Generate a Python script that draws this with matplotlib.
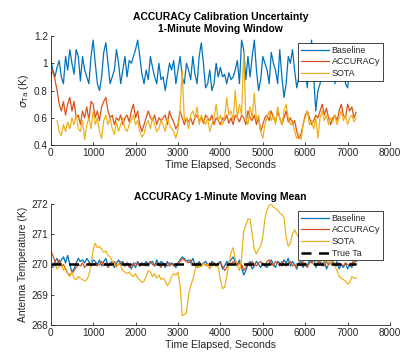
import numpy as np
import matplotlib
matplotlib.use("Agg")
import matplotlib.pyplot as plt

plt.rcParams['font.family'] = ['Liberation Sans', 'DejaVu Sans']

STEP = 50  # seconds between samples

# ---- top panel: calibration uncertainty (K) ----
base_sigma = [1.03, 0.95, 0.90, 0.97, 1.02, 0.90, 0.85, 1.05, 0.95, 1.10,
              1.00, 0.92, 1.10, 1.05, 0.87, 1.05, 0.95, 0.90, 0.85, 1.05,
              1.17, 1.00, 0.85, 0.80, 0.90, 1.08, 1.15, 1.00, 0.85, 0.90,
              0.95, 1.10, 1.00, 0.85, 0.95, 1.05, 0.90, 1.02, 1.00, 1.05,
              1.10, 1.17, 1.05, 0.92, 0.85, 0.95, 0.88, 1.05, 0.97, 0.90,
              0.85, 1.00, 0.88, 0.90, 0.80, 0.90, 1.00, 0.95, 1.02, 0.85,
              0.95, 1.05, 0.90, 0.85, 1.00, 0.95, 0.88, 1.05, 0.92, 0.85,
              1.05, 1.15, 1.00, 0.82, 0.85, 0.95, 0.80, 0.85, 1.00, 0.90,
              0.97, 0.90, 0.92, 0.85, 0.93, 0.88, 0.90, 0.95, 1.02, 0.85,
              1.17, 1.10, 0.88, 1.05, 0.90, 1.05, 1.17, 0.95, 0.80, 0.88,
              1.05, 1.00, 0.95, 0.85, 1.08, 1.00, 0.95, 0.85, 1.10, 0.90,
              0.75, 0.85, 1.05, 1.00, 1.10, 0.95, 0.82, 0.90, 1.05, 0.88,
              0.95, 0.82, 1.05, 1.17, 0.90, 0.65, 0.80, 0.85, 0.95, 1.05,
              0.98, 0.88, 0.95, 1.00, 0.85, 1.05, 0.92, 0.90, 1.00, 0.85,
              0.82, 0.95, 0.88, 0.90, 0.87]
acc_sigma = [0.90, 0.95, 0.88, 0.80, 0.70, 0.65, 0.72, 0.62, 0.70, 0.75,
             0.65, 0.72, 0.60, 0.62, 0.55, 0.65, 0.60, 0.68, 0.58, 0.72,
             0.70, 0.60, 0.65, 0.58, 0.68, 0.72, 0.75, 0.65, 0.60, 0.62,
             0.55, 0.60, 0.58, 0.62, 0.55, 0.60, 0.62, 0.57, 0.65, 0.70,
             0.60, 0.65, 0.55, 0.50, 0.55, 0.60, 0.65, 0.60, 0.58, 0.62,
             0.55, 0.60, 0.58, 0.60, 0.62, 0.55, 0.65, 0.60, 0.57, 0.52,
             0.55, 0.65, 0.60, 0.55, 0.60, 0.57, 0.60, 0.55, 0.60, 0.62,
             0.58, 0.60, 0.56, 0.62, 0.60, 0.58, 0.62, 0.55, 0.60, 0.58,
             0.55, 0.60, 0.58, 0.62, 0.56, 0.60, 0.55, 0.62, 0.60, 0.57,
             0.62, 0.60, 0.55, 0.65, 0.60, 0.58, 0.62, 0.55, 0.60, 0.50,
             0.55, 0.60, 0.62, 0.58, 0.65, 0.60, 0.57, 0.65, 0.60, 0.55,
             0.60, 0.65, 0.57, 0.60, 0.55, 0.58, 0.50, 0.45, 0.48, 0.55,
             0.62, 0.65, 0.60, 0.55, 0.58, 0.62, 0.60, 0.65, 0.70, 0.62,
             0.67, 0.60, 0.55, 0.60, 0.62, 0.58, 0.65, 0.70, 0.62, 0.60,
             0.70, 0.65, 0.68, 0.60, 0.64]
sota_sigma_start = 150
sota_sigma = [0.58, 0.50, 0.47, 0.55, 0.50, 0.57, 0.52, 0.60, 0.55, 0.62,
              0.52, 0.50, 0.58, 0.44, 0.55, 0.60, 0.52, 0.65, 0.55, 0.60,
              0.50, 0.45, 0.58, 0.62, 0.55, 0.60, 0.52, 0.48, 0.57, 0.50,
              0.55, 0.60, 0.52, 0.50, 0.55, 0.58, 0.62, 0.55, 0.58, 0.50,
              0.46, 0.48, 0.55, 0.58, 0.52, 0.60, 0.55, 0.50, 0.52, 0.58,
              0.55, 0.50, 0.60, 0.55, 0.52, 0.50, 0.45, 0.52, 0.65, 0.95,
              0.58, 0.60, 0.52, 0.62, 0.65, 0.60, 0.68, 0.55, 0.62, 0.58,
              0.55, 0.60, 0.50, 0.55, 0.60, 0.70, 0.58, 0.62, 0.55, 0.60,
              0.75, 0.62, 0.65, 0.58, 0.80, 0.60, 0.70, 0.62, 1.08, 0.60,
              0.55, 0.68, 0.60, 0.78, 0.58, 0.62, 0.50, 0.45, 0.55, 0.60,
              0.65, 0.58, 0.62, 0.55, 0.68, 0.60, 0.55, 0.65, 0.70, 0.60,
              0.55, 0.58, 0.50, 0.45, 0.48, 0.44, 0.55, 0.60, 0.65, 0.55,
              0.58, 0.52, 0.60, 0.45, 0.60, 0.65, 0.58, 0.62, 0.55, 0.60,
              0.57, 0.62, 0.55, 0.60, 0.65, 0.58, 0.62, 0.55, 0.60, 0.62,
              0.57, 0.60]

# ---- bottom panel: moving mean (K) ----
base_mean = [270.00, 269.90, 270.10, 270.20, 270.00, 270.15, 270.25, 270.05, 270.30, 270.00,
             269.75, 269.85, 270.05, 270.20, 270.10, 270.15, 270.05, 270.20, 270.10, 269.95,
             270.15, 270.10, 270.00, 270.15, 269.95, 270.10, 270.20, 269.95, 270.05, 270.10,
             269.90, 270.05, 270.15, 270.00, 270.10, 269.95, 270.05, 270.00, 269.85, 270.05,
             269.90, 270.10, 269.95, 270.05, 270.00, 270.10, 269.95, 270.05, 270.10, 269.95,
             270.15, 270.00, 270.10, 270.05, 269.90, 270.10, 269.95, 270.05, 270.00, 269.90,
             270.05, 270.15, 270.25, 270.20, 270.10, 270.15, 270.05, 270.20, 270.00, 269.90,
             270.10, 269.95, 270.05, 270.10, 270.00, 269.95, 270.10, 270.05, 269.95, 270.05,
             270.10, 269.85, 269.95, 270.10, 270.05, 270.15, 270.25, 270.10, 270.00, 270.15,
             269.90, 269.65, 269.80, 270.00, 270.10, 269.85, 269.95, 270.10, 270.00, 269.90,
             270.05, 269.95, 269.90, 270.05, 270.15, 270.00, 269.90, 270.10, 270.05, 269.95,
             270.15, 270.05, 270.20, 269.95, 270.10, 270.00, 269.85, 270.05, 270.10, 269.90,
             270.05, 269.95, 270.15, 270.05, 270.20, 269.90, 270.05, 270.10, 269.95, 270.15,
             269.85, 270.00, 270.20, 270.05, 269.95, 270.10, 269.85, 270.00, 269.90, 270.05,
             269.85, 270.00, 269.90, 270.20, 270.10]
acc_mean = [270.45, 270.30, 270.10, 270.00, 270.15, 269.95, 270.00, 269.85, 269.70, 269.65,
            269.70, 269.80, 269.90, 270.00, 269.95, 270.05, 269.90, 270.00, 270.05, 269.95,
            270.00, 270.05, 269.95, 270.00, 270.10, 269.95, 270.05, 269.90, 270.00, 270.05,
            270.10, 269.95, 270.00, 270.10, 270.00, 269.95, 270.05, 269.90, 270.00, 269.95,
            270.05, 270.00, 269.95, 270.05, 270.00, 269.95, 270.05, 270.10, 270.00, 269.95,
            270.05, 270.00, 269.90, 270.05, 270.00, 269.95, 270.05, 270.00, 269.95, 270.00,
            270.05, 270.10, 270.20, 270.15, 270.10, 270.05, 270.15, 270.00, 269.95, 270.05,
            270.00, 269.95, 270.05, 270.00, 269.95, 270.05, 270.00, 270.05, 269.95, 270.00,
            270.05, 269.95, 269.80, 269.90, 270.05, 270.00, 270.10, 270.05, 269.95, 270.05,
            270.00, 269.80, 269.90, 270.05, 269.95, 270.10, 270.00, 269.95, 270.05, 270.10,
            270.00, 269.95, 270.10, 270.15, 270.05, 269.95, 270.10, 270.05, 269.95, 270.10,
            270.00, 269.95, 270.05, 270.10, 269.95, 270.00, 269.90, 270.05, 269.95, 270.10,
            270.00, 269.90, 270.05, 270.10, 270.00, 269.95, 270.10, 270.00, 270.05, 269.95,
            270.10, 270.00, 270.05, 270.15, 270.00, 269.95, 270.05, 270.00, 269.95, 270.05,
            270.00, 269.95, 270.05, 270.10, 270.00]
sota_mean = [270.00, 269.95, 270.00, 269.85, 269.95, 270.05, 269.80, 269.90, 269.70, 269.60,
             269.75, 269.55, 269.50, 269.60, 269.55, 269.50, 269.45, 269.50, 269.65, 270.00,
             270.50, 270.70, 270.55, 270.60, 270.50, 270.40, 270.45, 270.30, 270.25, 270.10,
             270.00, 269.90, 270.05, 269.95, 269.80, 269.75, 269.70, 269.75, 269.65, 269.60,
             269.70, 269.55, 269.50, 269.40, 269.45, 269.60, 269.80, 269.75, 269.60, 269.70,
             269.55, 269.65, 269.50, 269.55, 269.45, 269.30, 269.40, 269.60, 269.70, 269.65,
             269.75, 269.30, 268.30, 268.35, 268.40, 269.00, 269.30, 269.50, 269.80, 270.00,
             269.90, 269.95, 270.05, 269.95, 270.00, 269.85, 269.95, 270.00, 269.95, 269.90,
             269.50, 269.20, 269.25, 269.60, 270.00, 270.40, 270.55, 270.20, 269.95, 269.80,
             270.20, 271.10, 271.30, 271.50, 271.50, 271.00, 270.50, 270.35, 270.50, 270.60,
             270.90, 271.50, 271.80, 271.95, 272.00, 271.90, 271.85, 271.80, 271.70, 271.65,
             271.55, 270.90, 270.60, 270.70, 271.00, 271.15, 271.00, 270.90, 270.80, 270.60,
             270.45, 270.30, 270.20, 270.35, 270.20, 270.10, 270.30, 270.20, 270.00, 270.10,
             270.30, 270.15, 270.00, 270.20, 269.95, 269.80, 269.60, 269.55, 269.50, 269.45,
             269.35, 269.40, 269.60, 269.55, 269.55]
true_ta = 270.0
t_end = 7200

labels = ['Baseline', 'ACCURACy', 'SOTA']
colors = ['#0072BD', '#D95319', '#EDB120']

def times(vals, start=0):
    return start + STEP * np.arange(len(vals))

axc = '#262626'
fs = 7.2

fig = plt.figure(figsize=(4.11, 3.53), dpi=100)
ax1 = fig.add_axes([0.1234, 0.589, 0.8256, 0.309])
ax2 = fig.add_axes([0.1234, 0.0793, 0.8256, 0.343])

lw = 0.9
ax1.plot(times(base_sigma), base_sigma, color=colors[0], lw=lw, label=labels[0])
ax1.plot(times(acc_sigma), acc_sigma, color=colors[1], lw=lw, label=labels[1])
ax1.plot(times(sota_sigma, sota_sigma_start), sota_sigma, color=colors[2], lw=lw, label=labels[2])

ax2.plot(times(base_mean), base_mean, color=colors[0], lw=lw, label=labels[0])
ax2.plot(times(acc_mean), acc_mean, color=colors[1], lw=lw, label=labels[1])
ax2.plot(times(sota_mean), sota_mean, color=colors[2], lw=lw, label=labels[2])
ax2.plot([0, t_end], [true_ta, true_ta], color='black', lw=1.8, ls=(0, (4, 3)), label='True Ta')

for ax in (ax1, ax2):
    ax.set_xlim(0, 8000)
    ax.set_xticks(np.arange(0, 8001, 1000))
    for s in ('top', 'right'):
        ax.spines[s].set_visible(False)
    for s in ('left', 'bottom'):
        ax.spines[s].set_color(axc)
        ax.spines[s].set_linewidth(0.6)
    ax.tick_params(direction='in', length=2.5, width=0.6, colors=axc, labelsize=fs, pad=2)
    ax.set_xlabel('Time Elapsed, Seconds', fontsize=7.6, color=axc, labelpad=1.5)

ax1.set_ylim(0.4, 1.2)
ax1.set_yticks([0.4, 0.6, 0.8, 1.0, 1.2])
ax1.set_yticklabels(['0.4', '0.6', '0.8', '1', '1.2'])
ax1.set_ylabel(r'$\sigma_{\mathrm{Ta}}$ (K)', fontsize=7.6, color=axc, labelpad=2)
ax1.set_title('ACCURACy Calibration Uncertainty\n1-Minute Moving Window',
              fontsize=7.5, fontweight='bold', color='black', pad=3, linespacing=1.25)

ax2.set_ylim(268, 272)
ax2.set_yticks([268, 269, 270, 271, 272])
ax2.set_ylabel('Antenna Temperature (K)', fontsize=7.4, color=axc, labelpad=2)
ax2.set_title('ACCURACy 1-Minute Moving Mean', fontsize=7.5, fontweight='bold',
              color='black', pad=3)

leg_kw = dict(loc='upper right', fontsize=6.4, frameon=True, fancybox=False,
              framealpha=1, handlelength=3.2, handletextpad=0.3, borderpad=0.3,
              labelspacing=0.3, borderaxespad=0)
l1 = ax1.legend(bbox_to_anchor=(0.979, 0.936), **leg_kw)
l2 = ax2.legend(bbox_to_anchor=(0.979, 0.942), **leg_kw)
for l in (l1, l2):
    l.get_frame().set_edgecolor(axc)
    l.get_frame().set_linewidth(0.6)
    for t in l.get_texts():
        t.set_color(axc)

fig.savefig('out.png', dpi=100)
